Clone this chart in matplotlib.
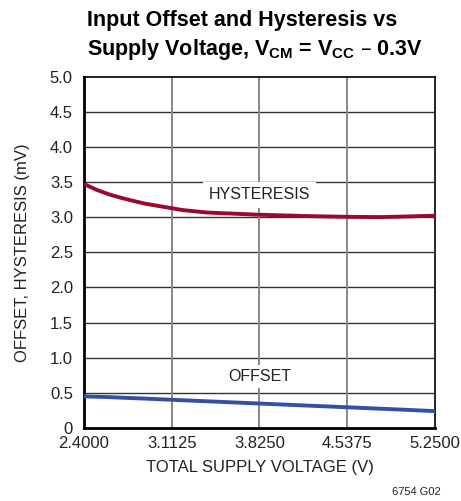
import numpy as np
import matplotlib
matplotlib.use("Agg")
import matplotlib.pyplot as plt

vs = [2.4, 2.5, 2.6, 2.7, 2.8, 2.9, 3.0, 3.2, 3.4, 3.6, 3.8, 4.0, 4.2, 4.4, 4.6, 4.8, 5.0, 5.25]
hyst = [3.47, 3.39, 3.325, 3.275, 3.23, 3.19, 3.16, 3.10, 3.065, 3.05, 3.035, 3.025, 3.015,
        3.008, 3.003, 3.0, 3.008, 3.02]
offset = [0.45, 0.445, 0.44, 0.432, 0.425, 0.418, 0.41, 0.395, 0.38, 0.365, 0.35, 0.335, 0.32,
          0.305, 0.29, 0.275, 0.26, 0.24]

xticks = [2.4, 3.1125, 3.825, 4.5375, 5.25]
xticklabels = ["2.4000", "3.1125", "3.8250", "4.5375", "5.2500"]
yticks = np.arange(0, 5.01, 0.5)
yticklabels = ["0"] + [f"{v:.1f}" for v in yticks[1:]]

plt.rcParams["font.family"] = ["Liberation Sans", "DejaVu Sans"]
txt = "#222222"

fig = plt.figure(figsize=(4.61, 5.01), dpi=100)
ax = fig.add_axes([0.1822, 0.1457, 0.7614, 0.7016])

ax.plot(vs, hyst, color="#9a0a30", lw=2.8, solid_capstyle="butt", solid_joinstyle="round", zorder=3)
ax.plot(vs, offset, color="#3350a3", lw=2.8, solid_capstyle="butt", zorder=3)

ax.set_xlim(2.4, 5.25)
ax.set_ylim(0, 5.0)
ax.set_xticks(xticks)
ax.set_xticklabels(xticklabels)
ax.set_yticks(yticks)
ax.set_yticklabels(yticklabels)
ax.tick_params(length=0, labelsize=12, colors=txt)
ax.tick_params(axis="x", pad=5.5)
ax.tick_params(axis="y", pad=8)

for y in yticks[1:-1]:
    ax.axhline(y, color="#333333", lw=1.0, zorder=1)
for x in xticks[1:-1]:
    ax.axvline(x, color="#888888", lw=1.4, zorder=1)

for s in ax.spines.values():
    s.set_color("black")
    s.set_linewidth(1.2)
ax.spines["left"].set_linewidth(2)
ax.spines["bottom"].set_linewidth(2)

ax.text(3.825, 3.32, "HYSTERESIS", ha="center", va="center", fontsize=11.5, color=txt,
        bbox=dict(facecolor="white", edgecolor="none", pad=4), zorder=2)
ax.text(3.825, 0.73, "OFFSET", ha="center", va="center", fontsize=11.5, color=txt,
        bbox=dict(facecolor="white", edgecolor="none", pad=3), zorder=2)

ax.set_xlabel("TOTAL SUPPLY VOLTAGE (V)", fontsize=12, color=txt, labelpad=7)
ax.set_ylabel("OFFSET, HYSTERESIS (mV)", fontsize=12, color=txt, labelpad=14)

fig.text(0.189, 0.948, "Input Offset and Hysteresis vs", fontsize=15.5, weight="bold",
         ha="left", va="baseline")
fig.text(0.189, 0.890, r"Supply Voltage, V$_{\mathregular{CM}}$ = V$_{\mathregular{CC}}$ – 0.3V",
         fontsize=15.5, weight="bold", ha="left", va="baseline")
fig.text(0.955, 0.018, "6754 G02", fontsize=8, ha="right", va="center", color=txt)

fig.savefig("out.png", dpi=100)
